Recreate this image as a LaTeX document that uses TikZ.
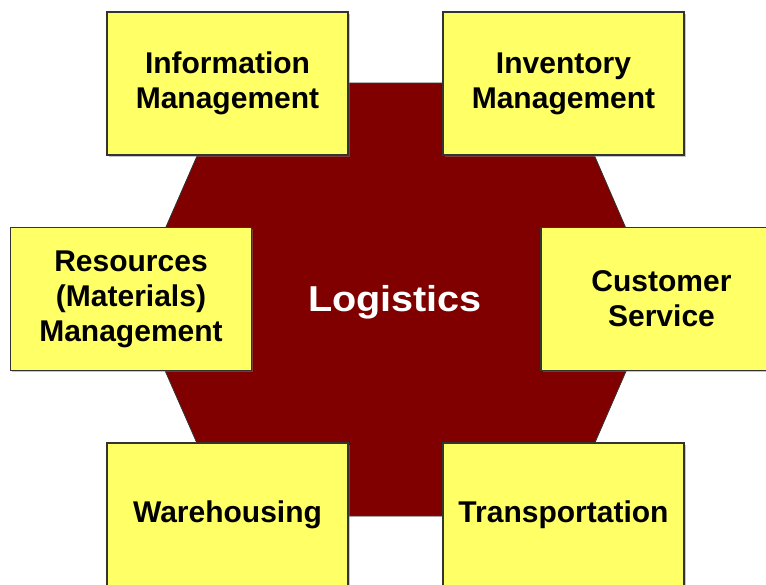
\documentclass[tikz,border=0pt]{standalone}
\usepackage{fontspec}
\setmainfont{Liberation Sans}
\usetikzlibrary{shadows}
\definecolor{hexred}{HTML}{800000}
\definecolor{boxyellow}{HTML}{FFFF66}
\definecolor{boxline}{HTML}{333333}
\tikzset{
  area/.style={
    rectangle, draw=boxline, line width=1.4pt, fill=boxyellow,
    minimum width=241pt, minimum height=143pt, inner sep=0pt,
    align=center, text=black,
    font=\fontsize{30}{35}\selectfont\bfseries,
    drop shadow={shadow xshift=1.5pt, shadow yshift=-1.5pt, opacity=0.45, fill=gray}
  },
  hub/.style={
    draw=boxline, line width=0.8pt, fill=hexred
  },
  title/.style={
    text=white, inner sep=0pt, anchor=base,
    font=\fontsize{36}{40}\selectfont\bfseries
  }
}
\begin{document}
\begin{tikzpicture}[x=1pt, y=-1pt]
  \clip (0,0) rectangle (766,584);
  \fill[white] (0,0) rectangle (766,584);

  % central hexagon
  \coordinate (h1) at (229,83);
  \coordinate (h2) at (563,83);
  \coordinate (h3) at (657,300);
  \coordinate (h4) at (563,516);
  \coordinate (h5) at (229,516);
  \coordinate (h6) at (134,300);
  \draw[hub] (h1) -- (h2) -- (h3) -- (h4) -- (h5) -- (h6) -- cycle;

  \node[title] (logistics) at (395,311) {\scalebox{1.1}[1]{Logistics}};

  % surrounding functions
  \node[area] (info)  at (227.5,83.5)  {Information\\Management};
  \node[area] (inv)   at (563.5,83.5)  {Inventory\\Management};
  \node[area] (res)   at (131,299)     {Resources\\(Materials)\\Management};
  \node[area] (cust)  at (661.5,299)   {Customer\\Service};
  \node[area] (ware)  at (227.5,514.5) {Warehousing};
  \node[area] (trans) at (563.5,514.5) {Transportation};
\end{tikzpicture}
\end{document}
